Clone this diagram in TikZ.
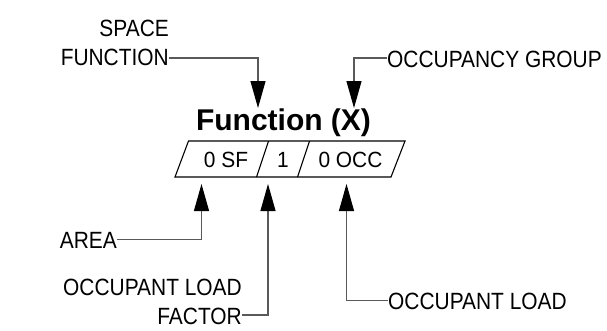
\documentclass[tikz,border=0pt]{standalone}
\usepackage{fontspec}
\setmainfont{Liberation Sans}
\newfontfamily\lblfont{Liberation Sans}[FakeStretch=0.89]
\newfontfamily\cellfont{Liberation Sans}[FakeStretch=0.95]
\usetikzlibrary{arrows.meta}
\tikzset{
  lbl/.style={font=\lblfont\fontsize{23.5}{29.5}\selectfont, inner sep=0pt},
  cell/.style={font=\cellfont\fontsize{22}{26}\selectfont, inner sep=0pt, anchor=base},
  lead/.style={draw=black!65, line width=1.1pt, -{Triangle[length=27pt,width=15pt,color=black]}},
  box/.style={draw=black, line width=1.1pt, line join=miter},
}
\begin{document}
\begin{tikzpicture}[x=1pt,y=-1pt]
\useasboundingbox (0,0) rectangle (607,330);
% parallelogram
\coordinate (bl) at (175,177);
\coordinate (tl) at (188.5,141);
\coordinate (tr) at (405,141);
\coordinate (br) at (391,177);
\coordinate (d1t) at (268.5,141);
\coordinate (d1b) at (256.5,177);
\coordinate (d2t) at (309.5,141);
\coordinate (d2b) at (297.5,177);
\draw[box] (bl) -- (tl) -- (tr) -- (br) -- cycle;
\draw[box] (d1t) -- (d1b);
\draw[box] (d2t) -- (d2b);
% title
\node[font=\bfseries\fontsize{30}{34}\selectfont, inner sep=0pt, anchor=base] (title) at (283.5,130.5) {Function (X)};
% cell texts
\node[cell] (area) at (226,167.5) {0 SF};
\node[cell] (olf) at (283,167.5) {1};
\node[cell] (occ) at (350.5,167.5) {0 OCC};
% labels
\node[lbl, anchor=east, align=right] (sfl) at (169,43) {SPACE\\FUNCTION};
\node[lbl, anchor=base west] (ogl) at (387,67.5) {OCCUPANCY GROUP};
\node[lbl, anchor=base east] (arl) at (117,248.5) {AREA};
\node[lbl, anchor=east, align=right] (olfl) at (242,302) {OCCUPANT LOAD\\FACTOR};
\node[lbl, anchor=base west] (oll) at (388,309.5) {OCCUPANT LOAD};
% arrow tips
\coordinate (tsf) at (258,108);
\coordinate (tog) at (354,108);
\coordinate (tar) at (201.5,184);
\coordinate (tolf) at (268,184);
\coordinate (tol) at (346.5,184);
% connectors
\draw[lead] (sfl.east |- 0,58) -| (tsf);
\draw[lead] (ogl.west |- 0,58) -| (tog);
\draw[lead] (arl.east |- 0,239.5) -| (tar);
\draw[lead] (olfl.east |- 0,315) -| (tolf);
\draw[lead] (oll.west |- 0,300.5) -| (tol);
\end{tikzpicture}
\end{document}
